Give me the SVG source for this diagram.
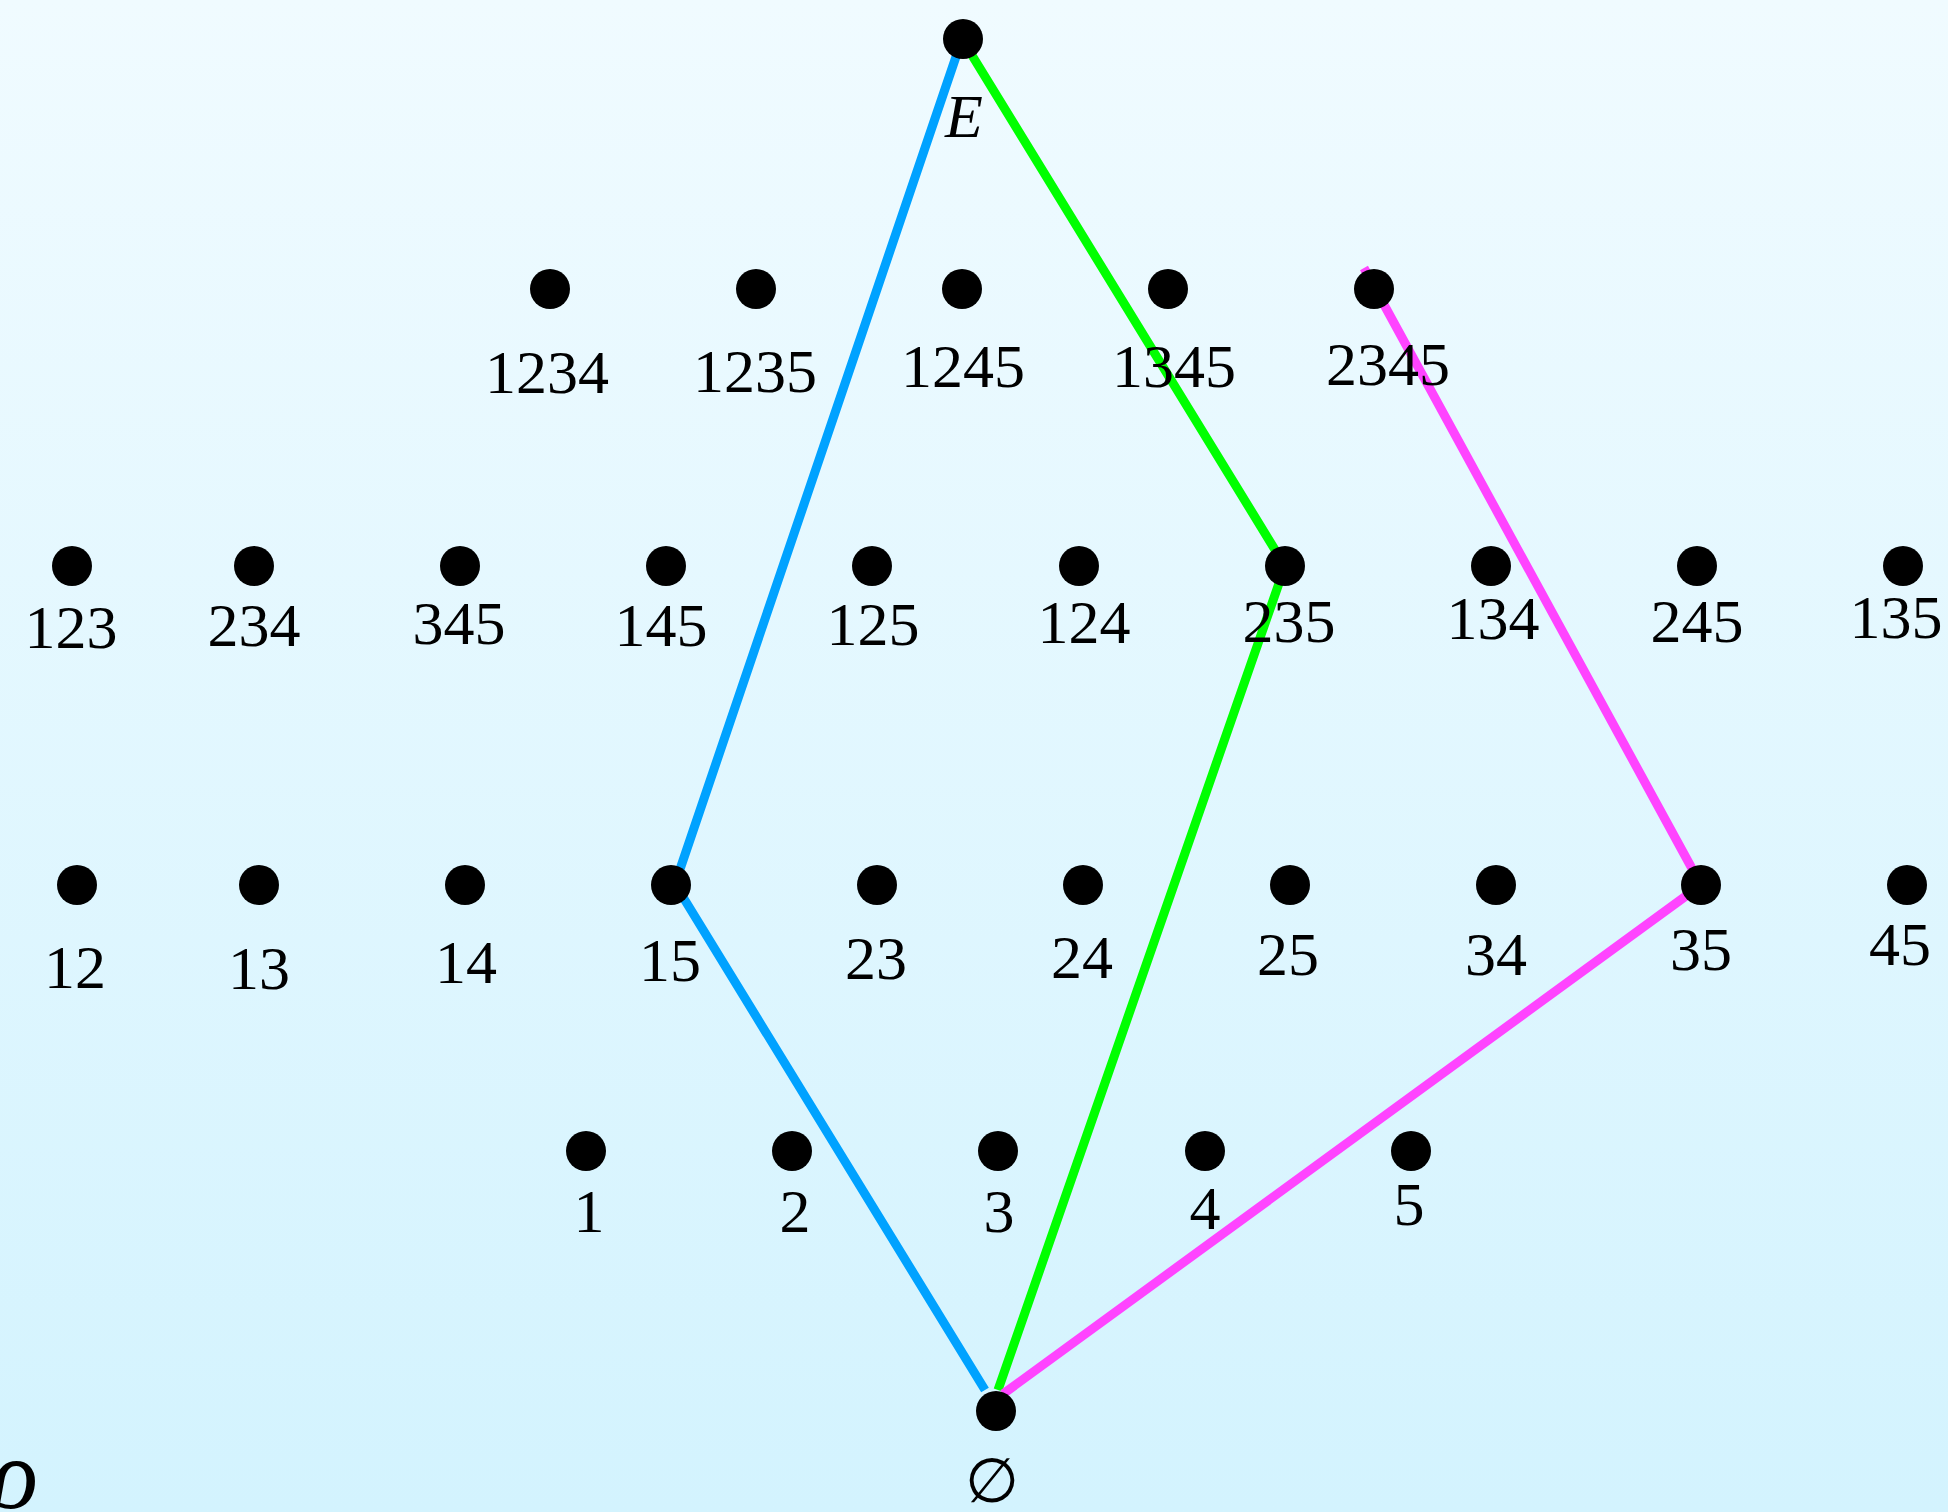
<svg xmlns="http://www.w3.org/2000/svg" width="1948" height="1512" viewBox="0 0 1948 1512">
<defs>
<linearGradient id="bg" x1="0" y1="0" x2="0" y2="1">
<stop offset="0" stop-color="#F0FBFF"/>
<stop offset="1" stop-color="#D3F3FE"/>
</linearGradient>
<style>
.dot{fill:#000}
.lbl{font-family:"Liberation Serif","Times New Roman",serif;font-size:62px;fill:#000;text-anchor:middle}
.it{font-style:italic}
.edge{fill:none;stroke-width:9;stroke-linejoin:round}
</style>
</defs>
<rect width="1948" height="1512" fill="url(#bg)"/>
<g id="connectors">
<polyline class="edge" stroke="#00A2FF" points="962,39 675,884 985,1390"/>
<polyline class="edge" stroke="#00FF00" points="962,39 1285,566 998,1390"/>
<polyline class="edge" stroke="#FF44FF" points="1364,268 1701,885 1003,1394"/>
</g>
<g id="n-E"><circle class="dot" cx="963" cy="39" r="20"/><text class="lbl it" x="964" y="137">E</text></g>
<g id="n-1234"><circle class="dot" cx="550" cy="289" r="20"/><text class="lbl" x="547" y="393">1234</text></g>
<g id="n-1235"><circle class="dot" cx="756" cy="289" r="20"/><text class="lbl" x="755" y="392">1235</text></g>
<g id="n-1245"><circle class="dot" cx="962" cy="289" r="20"/><text class="lbl" x="963" y="387">1245</text></g>
<g id="n-1345"><circle class="dot" cx="1168" cy="289" r="20"/><text class="lbl" x="1174" y="387">1345</text></g>
<g id="n-2345"><circle class="dot" cx="1374" cy="289" r="20"/><text class="lbl" x="1388" y="385">2345</text></g>
<g id="n-123"><circle class="dot" cx="72" cy="566" r="20"/><text class="lbl" x="71" y="648">123</text></g>
<g id="n-234"><circle class="dot" cx="254" cy="566" r="20"/><text class="lbl" x="254" y="646">234</text></g>
<g id="n-345"><circle class="dot" cx="460" cy="566" r="20"/><text class="lbl" x="459" y="644">345</text></g>
<g id="n-145"><circle class="dot" cx="666" cy="566" r="20"/><text class="lbl" x="661" y="646">145</text></g>
<g id="n-125"><circle class="dot" cx="872" cy="566" r="20"/><text class="lbl" x="873" y="645">125</text></g>
<g id="n-124"><circle class="dot" cx="1079" cy="566" r="20"/><text class="lbl" x="1084" y="643">124</text></g>
<g id="n-235"><circle class="dot" cx="1285" cy="566" r="20"/><text class="lbl" x="1289" y="642">235</text></g>
<g id="n-134"><circle class="dot" cx="1491" cy="566" r="20"/><text class="lbl" x="1493" y="639">134</text></g>
<g id="n-245"><circle class="dot" cx="1697" cy="566" r="20"/><text class="lbl" x="1697" y="642">245</text></g>
<g id="n-135"><circle class="dot" cx="1903" cy="566" r="20"/><text class="lbl" x="1896" y="638">135</text></g>
<g id="n-12"><circle class="dot" cx="77" cy="885" r="20"/><text class="lbl" x="75" y="988">12</text></g>
<g id="n-13"><circle class="dot" cx="259" cy="885" r="20"/><text class="lbl" x="259" y="989">13</text></g>
<g id="n-14"><circle class="dot" cx="465" cy="885" r="20"/><text class="lbl" x="466" y="983">14</text></g>
<g id="n-15"><circle class="dot" cx="671" cy="885" r="20"/><text class="lbl" x="670" y="981">15</text></g>
<g id="n-23"><circle class="dot" cx="877" cy="885" r="20"/><text class="lbl" x="876" y="979">23</text></g>
<g id="n-24"><circle class="dot" cx="1083" cy="885" r="20"/><text class="lbl" x="1082" y="978">24</text></g>
<g id="n-25"><circle class="dot" cx="1290" cy="885" r="20"/><text class="lbl" x="1288" y="975">25</text></g>
<g id="n-34"><circle class="dot" cx="1496" cy="885" r="20"/><text class="lbl" x="1496" y="975">34</text></g>
<g id="n-35"><circle class="dot" cx="1701" cy="885" r="20"/><text class="lbl" x="1701" y="970">35</text></g>
<g id="n-45"><circle class="dot" cx="1907" cy="885" r="20"/><text class="lbl" x="1900" y="965">45</text></g>
<g id="n-1"><circle class="dot" cx="586" cy="1151" r="20"/><text class="lbl" x="589" y="1232">1</text></g>
<g id="n-2"><circle class="dot" cx="792" cy="1151" r="20"/><text class="lbl" x="795" y="1232">2</text></g>
<g id="n-3"><circle class="dot" cx="998" cy="1151" r="20"/><text class="lbl" x="999" y="1232">3</text></g>
<g id="n-4"><circle class="dot" cx="1205" cy="1151" r="20"/><text class="lbl" x="1205" y="1229">4</text></g>
<g id="n-5"><circle class="dot" cx="1411" cy="1151" r="20"/><text class="lbl" x="1409" y="1225">5</text></g>
<g id="n-empty"><circle class="dot" cx="996" cy="1411" r="20"/><text class="lbl" x="992" y="1502">∅</text></g>
<text x="-10" y="1508" font-family="Liberation Serif, serif" font-style="italic" font-size="100" fill="#000">ρ</text>
</svg>
